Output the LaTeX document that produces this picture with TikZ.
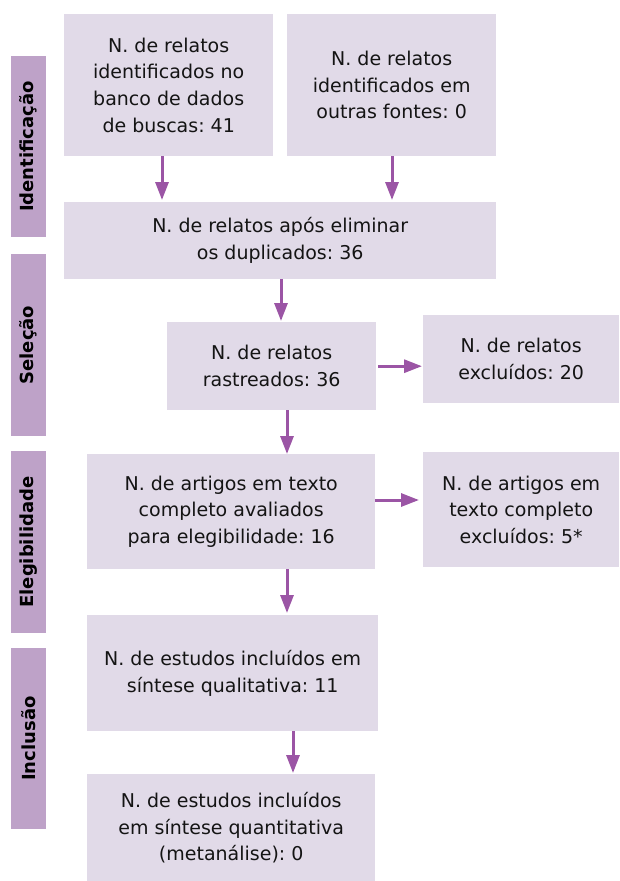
\documentclass[tikz,border=0pt]{standalone}
\usepackage{fontspec}
\setmainfont{DejaVu Sans}
\usepackage{tikz}
\usetikzlibrary{arrows.meta, positioning}
\frenchspacing

\definecolor{boxfill}{RGB}{225,218,232}
\definecolor{barfill}{RGB}{190,162,200}
\definecolor{flowcol}{RGB}{155,85,165}
\definecolor{textcol}{RGB}{20,20,20}

\begin{document}
\begin{tikzpicture}[x=1pt, y=-1pt,
    stepbox/.style={fill=boxfill, anchor=north west, inner sep=0pt, align=center,
        text=textcol, font=\fontsize{19}{26.7}\selectfont},
    phase/.style={fill=barfill, rotate=90, inner sep=0pt, minimum height=35pt,
        font=\fontsize{18}{22}\selectfont\bfseries},
    flow/.style={draw=flowcol, line width=3pt, -{Triangle[length=18pt,width=13pt]}}]
    \useasboundingbox (0,0) rectangle (619,881);

    % fases
    \node[phase, minimum width=181pt] (ident) at (28.5,146.5) {Identificação};
    \node[phase, minimum width=182pt] (selec) at (28.5,345) {Seleção};
    \node[phase, minimum width=182pt] (elegi) at (28.5,542) {Elegibilidade};
    \node[phase, minimum width=181pt] (inclu) at (28.5,738.5) {Inclusão};

    % caixas
    \node[stepbox, minimum width=209pt, minimum height=142pt] (banco) at (64,14)
        {N. de relatos\\identificados no\\banco de dados\\de buscas: 41};
    \node[stepbox, minimum width=209pt, minimum height=142pt] (outras) at (287,14)
        {N. de relatos\\identificados em\\outras fontes: 0};
    \node[stepbox, minimum width=432pt, minimum height=77pt] (dupl) at (64,202)
        {N. de relatos após eliminar\\os duplicados: 36};
    \node[stepbox, minimum width=209pt, minimum height=88pt] (rastr) at (167,322)
        {N. de relatos\\rastreados: 36};
    \node[stepbox, minimum width=196pt, minimum height=88pt] (exclA) at (423,315)
        {N. de relatos\\excluídos: 20};
    \node[stepbox, minimum width=288pt, minimum height=115pt] (artig) at (87,454)
        {N. de artigos em texto\\completo avaliados\\para elegibilidade: 16};
    \node[stepbox, minimum width=196pt, minimum height=115pt] (exclB) at (423,452)
        {N. de artigos em\\texto completo\\excluídos: 5*};
    \node[stepbox, minimum width=291pt, minimum height=116pt] (quali) at (87,615)
        {N. de estudos incluídos em\\síntese qualitativa: 11};
    \node[stepbox, minimum width=288pt, minimum height=107pt] (quant) at (87,774)
        {N. de estudos incluídos\\em síntese quantitativa\\(metanálise): 0};

    % colunas das setas
    \coordinate (c1) at (162,0);
    \coordinate (c2) at (392,0);
    \coordinate (c3) at (281,0);
    \coordinate (c4) at (287,0);
    \coordinate (c5) at (293,0);
    \coordinate (r1) at (0,500);

    \draw[flow, shorten >=2pt] (banco.south -| c1) -- (dupl.north -| c1);
    \draw[flow, shorten >=2pt] (outras.south -| c2) -- (dupl.north -| c2);
    \draw[flow, shorten >=1pt] (dupl.south -| c3) -- (rastr.north -| c3);
    \draw[flow, shorten <=2pt, shorten >=1pt] (rastr.east) -- (rastr.east -| exclA.west);
    \draw[flow] (rastr.south -| c4) -- (artig.north -| c4);
    \draw[flow, shorten >=4pt] (artig.east |- r1) -- (exclB.west |- r1);
    \draw[flow, shorten >=2pt] (artig.south -| c4) -- (quali.north -| c4);
    \draw[flow, shorten >=1pt] (quali.south -| c5) -- (quant.north -| c5);
\end{tikzpicture}
\end{document}
